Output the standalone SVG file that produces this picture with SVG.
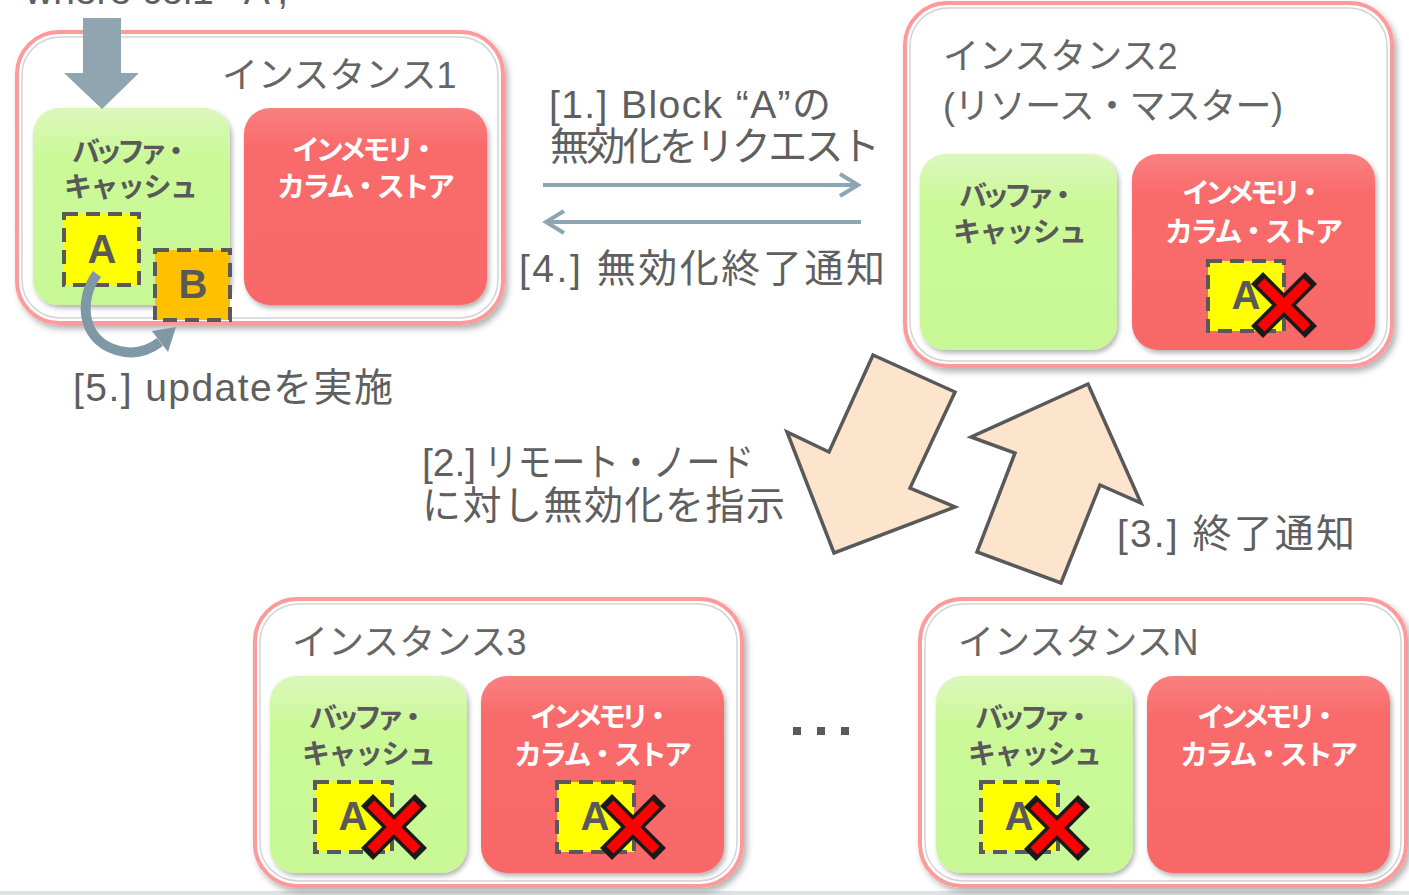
<svg xmlns="http://www.w3.org/2000/svg" width="1409" height="895" viewBox="0 0 1409 895">
<style>
text{font-family:"Liberation Sans","Noto Sans CJK JP",sans-serif}
.title{font-size:36px;fill:#666}
.lbl{font-size:39px;fill:#5f5f5f}
.buf{font-size:28px;font-weight:bold;fill:#595959;text-anchor:middle}
.imc{font-size:28px;font-weight:bold;fill:#fff;text-anchor:middle}
.blk{font-size:40px;font-weight:bold;fill:#595959;text-anchor:middle}
.outer{fill:#fff;stroke:#ff9a9a;stroke-width:4}
.inner{fill:none;stroke:#d4d4d4;stroke-width:1.5}
.green{fill:url(#gGreen)}
.red{fill:url(#gRed)}
.dashA{fill:#ffff00;stroke:#595959;stroke-width:4;stroke-dasharray:14 8}
.dashB{fill:#ffc000;stroke:#595959;stroke-width:4;stroke-dasharray:14 8}
.xb{stroke:#1a1a1a;stroke-width:17}
.xr{stroke:#ff0000;stroke-width:10}
.line{stroke:#8da6b3;stroke-width:4;fill:none}
.big{fill:#fde4cc;stroke:#595959;stroke-width:3.5;stroke-linejoin:miter}
</style>
<defs>
<linearGradient id="gGreen" x1="0" y1="0" x2="0" y2="1">
<stop offset="0" stop-color="#dcf7bd"/>
<stop offset="0.25" stop-color="#cbf998"/>
<stop offset="1" stop-color="#c8f895"/>
</linearGradient>
<linearGradient id="gRed" x1="0" y1="0" x2="0" y2="1">
<stop offset="0" stop-color="#fa8080"/>
<stop offset="0.2" stop-color="#f96b6b"/>
<stop offset="1" stop-color="#f86868"/>
</linearGradient>
<filter id="sh" x="-10%" y="-10%" width="125%" height="125%">
<feDropShadow dx="3" dy="4" stdDeviation="3" flood-color="#000" flood-opacity="0.3"/>
</filter>
<filter id="sh2" x="-10%" y="-10%" width="125%" height="125%">
<feDropShadow dx="2" dy="3" stdDeviation="2.5" flood-color="#000" flood-opacity="0.3"/>
</filter>
<g id="xmark">
<line class="xb" x1="-27" y1="-27" x2="27" y2="27"/>
<line class="xb" x1="27" y1="-27" x2="-27" y2="27"/>
<line class="xr" x1="-23" y1="-23" x2="23" y2="23"/>
<line class="xr" x1="23" y1="-23" x2="-23" y2="23"/>
</g>
</defs>
<rect width="1409" height="895" fill="#fff"/>
<rect x="0" y="891" width="1409" height="4" fill="#dde3e3"/>

<text class="lbl" x="25" y="4">where col1='A';</text>

<g id="instance1">
<rect class="outer" x="17" y="32" width="486" height="291" rx="42" filter="url(#sh)"/>
<rect class="inner" x="22" y="37" width="476" height="281" rx="38"/>
<text class="title" x="222" y="88">インスタンス1</text>
<g id="i1-buffer">
<rect class="green" x="33" y="108" width="197" height="197" rx="26" filter="url(#sh2)"/>
<text class="buf" x="131" y="162" textLength="118">バッファ・</text>
<text class="buf" x="131" y="197" textLength="134">キャッシュ</text>
</g>
<g id="i1-imcs">
<rect class="red" x="244" y="108" width="243" height="197" rx="26" filter="url(#sh2)"/>
<text class="imc" x="365" y="160" textLength="146">インメモリ・</text>
<text class="imc" x="366" y="197" textLength="178">カラム・ストア</text>
</g>
<g id="i1-blockA">
<rect class="dashA" x="64" y="214" width="75" height="71"/>
<text class="blk" x="102" y="263">A</text>
</g>
<g id="i1-blockB">
<rect class="dashB" x="155" y="250" width="75" height="70"/>
<text class="blk" x="193" y="298">B</text>
</g>
</g>

<g id="instance2">
<rect class="outer" x="905" y="3" width="487" height="363" rx="42" filter="url(#sh)"/>
<rect class="inner" x="910" y="8" width="477" height="353" rx="38"/>
<text class="title" x="943" y="69">インスタンス2</text>
<text class="title" x="943" y="119" textLength="340">(リソース・マスター)</text>
<g id="i2-buffer">
<rect class="green" x="920" y="154" width="197" height="196" rx="26" filter="url(#sh2)"/>
<text class="buf" x="1018" y="206" textLength="118">バッファ・</text>
<text class="buf" x="1020" y="242" textLength="134">キャッシュ</text>
</g>
<g id="i2-imcs">
<rect class="red" x="1132" y="154" width="243" height="196" rx="26" filter="url(#sh2)"/>
<text class="imc" x="1253" y="203" textLength="142">インメモリ・</text>
<text class="imc" x="1254" y="242" textLength="178">カラム・ストア</text>
<rect class="dashA" x="1208" y="261" width="76" height="70"/>
<text class="blk" x="1246" y="309">A</text>
<use href="#xmark" x="1284" y="305"/>
</g>
</g>

<g id="instance3">
<rect class="outer" x="255" y="599" width="487" height="287" rx="42" filter="url(#sh)"/>
<rect class="inner" x="260" y="604" width="477" height="277" rx="38"/>
<text class="title" x="292" y="655">インスタンス3</text>
<g id="i3-buffer">
<rect class="green" x="270" y="676" width="197" height="197" rx="26" filter="url(#sh2)"/>
<text class="buf" x="368" y="728" textLength="118">バッファ・</text>
<text class="buf" x="369" y="764" textLength="134">キャッシュ</text>
<rect class="dashA" x="315" y="782" width="77" height="70"/>
<text class="blk" x="353" y="830">A</text>
<use href="#xmark" x="394" y="827"/>
</g>
<g id="i3-imcs">
<rect class="red" x="481" y="676" width="243" height="197" rx="26" filter="url(#sh2)"/>
<text class="imc" x="601" y="727" textLength="142">インメモリ・</text>
<text class="imc" x="603" y="765" textLength="178">カラム・ストア</text>
<rect class="dashA" x="557" y="782" width="77" height="70"/>
<text class="blk" x="595" y="830">A</text>
<use href="#xmark" x="633" y="827"/>
</g>
</g>

<g id="instanceN">
<rect class="outer" x="920" y="599" width="486" height="287" rx="42" filter="url(#sh)"/>
<rect class="inner" x="925" y="604" width="476" height="277" rx="38"/>
<text class="title" x="958" y="655">インスタンスN</text>
<g id="iN-buffer">
<rect class="green" x="936" y="676" width="197" height="197" rx="26" filter="url(#sh2)"/>
<text class="buf" x="1034" y="728" textLength="118">バッファ・</text>
<text class="buf" x="1035" y="764" textLength="134">キャッシュ</text>
<rect class="dashA" x="981" y="782" width="77" height="70"/>
<text class="blk" x="1019" y="830">A</text>
<use href="#xmark" x="1057" y="828"/>
</g>
<g id="iN-imcs">
<rect class="red" x="1147" y="676" width="243" height="197" rx="26" filter="url(#sh2)"/>
<text class="imc" x="1268" y="727" textLength="142">インメモリ・</text>
<text class="imc" x="1269" y="765" textLength="178">カラム・ストア</text>
</g>
</g>

<g id="ellipsis" fill="#595959">
<rect x="793" y="727" width="8" height="8"/>
<rect x="817" y="727" width="8" height="8"/>
<rect x="841" y="727" width="8" height="8"/>
</g>

<g id="connectors">
<polygon points="83,18 121,18 121,73 139,73 102,109 64,73 83,73" fill="#8fa6b1"/>
<path d="M97 274 C78 300 80 345 125 352 C140 354 152 348 160 342" fill="none" stroke="#7f98a5" stroke-width="10"/>
<polygon points="152,331 176,327 168,352" fill="#7f98a5"/>
<line class="line" x1="543" y1="185" x2="857" y2="185"/>
<polyline class="line" points="840,174 858,185 840,196"/>
<line class="line" x1="547" y1="222" x2="861" y2="222"/>
<polyline class="line" points="564,211 546,222 564,233"/>
<polygon class="big" points="873,355 955,392 910,488 955,507 834,553 787,432 829,452"/>
<polygon class="big" points="1088,384 1141,503 1100,485 1061,583 977,552 1015,453 971,437"/>
</g>

<g id="labels">
<text class="lbl" x="549" y="118" textLength="282">[1.] Block “A”の</text>
<text class="lbl" x="550" y="160" textLength="330">無効化をリクエスト</text>
<text class="lbl" x="519" y="282" textLength="366">[4.] 無効化終了通知</text>
<text class="lbl" x="422" y="476">[2.]</text>
<text class="lbl" x="484" y="476" textLength="270" lengthAdjust="spacingAndGlyphs">リモート・ノード</text>
<text class="lbl" x="422" y="519" textLength="363">に対し無効化を指示</text>
<text class="lbl" x="1117" y="547" textLength="238">[3.] 終了通知</text>
<text class="lbl" x="73" y="401" textLength="320">[5.] updateを実施</text>
</g>
</svg>
